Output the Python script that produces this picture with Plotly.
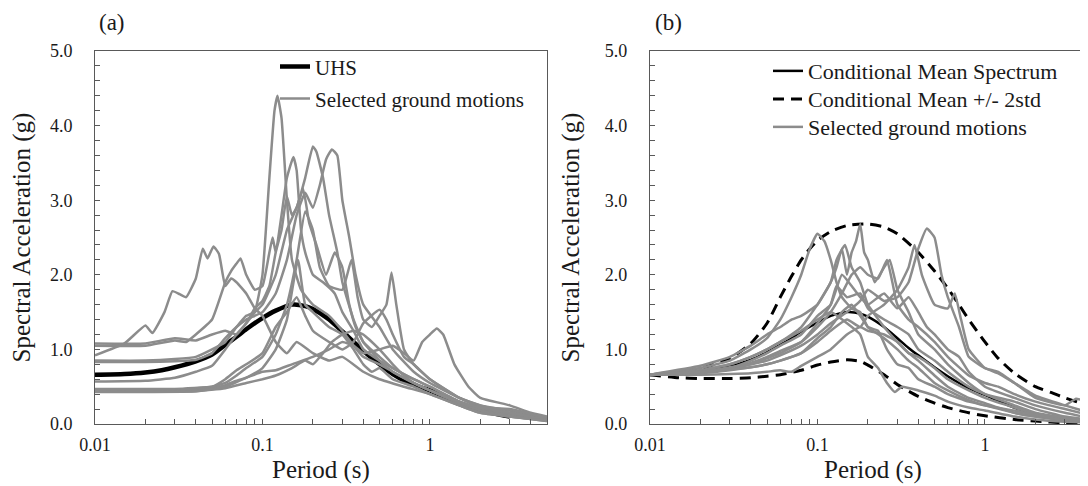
import numpy as np
import plotly.graph_objects as go

# ---------------- Panel (a) data ----------------
uhs_T = [0.01, 0.015, 0.02, 0.025, 0.03, 0.04, 0.05, 0.06, 0.07, 0.08, 0.1, 0.12, 0.15, 0.18, 0.2, 0.25, 0.3, 0.4, 0.5, 0.6, 0.75, 1.0, 1.5, 2.0, 3.0]
uhs_SA = [0.66, 0.67, 0.69, 0.72, 0.76, 0.84, 0.93, 1.06, 1.17, 1.27, 1.42, 1.52, 1.6, 1.58, 1.54, 1.4, 1.24, 0.98, 0.8, 0.67, 0.55, 0.45, 0.27, 0.18, 0.1]

a1_T = [0.01, 0.02, 0.03, 0.04, 0.05, 0.06, 0.07, 0.08, 0.09, 0.1, 0.11, 0.118, 0.123, 0.13, 0.14, 0.15, 0.17, 0.2, 0.25, 0.3, 0.35, 0.4, 0.5, 0.6, 0.8, 1.0, 1.5, 2.0, 3.0, 4.0, 5.0]
a1_SA = [1.08, 1.08, 1.15, 1.12, 1.2, 1.25, 1.2, 1.35, 1.5, 2.0, 3.3, 4.2, 4.4, 4.1, 3.0, 2.2, 1.8, 1.6, 1.45, 1.25, 1.05, 0.9, 0.8, 0.7, 0.55, 0.45, 0.28, 0.2, 0.12, 0.08, 0.05]

a2_T = [0.01, 0.02, 0.03, 0.035, 0.04, 0.05, 0.06, 0.065, 0.07, 0.074, 0.08, 0.09, 0.1, 0.11, 0.115, 0.12, 0.13, 0.14, 0.153, 0.16, 0.17, 0.18, 0.2, 0.23, 0.27, 0.3, 0.35, 0.4, 0.5, 0.6, 0.8, 1.0, 1.5, 2.0, 3.0, 5.0]
a2_SA = [1.05, 1.05, 1.12, 1.1, 1.2, 1.4, 1.9, 2.05, 2.15, 2.22, 2.0, 1.8, 1.85, 2.3, 2.5, 2.3, 2.8, 3.3, 3.58, 3.4, 2.6, 2.3, 2.0, 1.9, 1.75, 1.5, 1.25, 1.0, 0.85, 0.75, 0.6, 0.5, 0.3, 0.2, 0.12, 0.06]

a3_T = [0.01, 0.015, 0.02, 0.022, 0.026, 0.029, 0.032, 0.035, 0.04, 0.044, 0.047, 0.051, 0.055, 0.06, 0.065, 0.07, 0.08, 0.09, 0.1, 0.12, 0.14, 0.16, 0.2, 0.25, 0.3, 0.4, 0.5, 0.7, 1.0, 1.5, 2.0, 3.0, 5.0]
a3_SA = [0.92, 1.08, 1.32, 1.22, 1.5, 1.78, 1.74, 1.7, 1.95, 2.35, 2.22, 2.38, 2.28, 1.85, 1.95, 1.9, 1.75, 1.55, 1.45, 1.1, 0.95, 1.1, 0.95, 0.85, 0.9, 0.7, 0.6, 0.5, 0.4, 0.25, 0.15, 0.1, 0.04]

a4_T = [0.01, 0.02, 0.03, 0.04, 0.05, 0.06, 0.07, 0.08, 0.09, 0.1, 0.12, 0.14, 0.16, 0.18, 0.2, 0.21, 0.23, 0.25, 0.28, 0.3, 0.35, 0.4, 0.5, 0.6, 0.8, 1.0, 1.5, 2.0, 3.0, 5.0]
a4_SA = [0.85, 0.85, 0.87, 0.9, 1.0, 1.1, 1.3, 1.45, 1.5, 1.6, 2.0, 2.6, 2.9, 3.3, 3.72, 3.65, 3.3, 2.8, 2.3, 1.9, 1.4, 1.1, 0.9, 0.75, 0.6, 0.5, 0.3, 0.22, 0.15, 0.06]

a5_T = [0.01, 0.02, 0.03, 0.04, 0.05, 0.06, 0.07, 0.08, 0.1, 0.12, 0.14, 0.16, 0.18, 0.2, 0.22, 0.24, 0.26, 0.28, 0.3, 0.33, 0.36, 0.4, 0.5, 0.6, 0.8, 1.0, 1.5, 2.0, 3.0, 5.0]
a5_SA = [0.83, 0.83, 0.84, 0.86, 0.95, 1.15, 1.3, 1.4, 1.5, 1.75, 2.2, 2.8, 3.1, 2.9, 3.2, 3.55, 3.68, 3.6, 3.0, 2.5, 2.0, 1.6, 1.3, 1.0, 0.7, 0.55, 0.35, 0.25, 0.15, 0.07]

a6_T = [0.01, 0.02, 0.03, 0.04, 0.05, 0.06, 0.07, 0.08, 0.09, 0.1, 0.11, 0.12, 0.13, 0.14, 0.15, 0.16, 0.175, 0.19, 0.21, 0.24, 0.27, 0.3, 0.33, 0.36, 0.4, 0.5, 0.6, 0.8, 1.0, 1.5, 2.0, 3.0, 5.0]
a6_SA = [0.57, 0.58, 0.62, 0.7, 0.78, 1.0, 1.2, 1.35, 1.55, 1.65, 1.85, 2.3, 2.6, 3.05, 2.8, 2.9, 3.15, 2.7, 2.4, 2.0, 2.3, 2.1, 1.6, 1.3, 1.1, 0.85, 0.7, 0.55, 0.45, 0.28, 0.18, 0.1, 0.05]

a7_T = [0.01, 0.03, 0.05, 0.06, 0.07, 0.08, 0.1, 0.12, 0.14, 0.16, 0.18, 0.2, 0.22, 0.25, 0.3, 0.34, 0.37, 0.4, 0.45, 0.5, 0.55, 0.59, 0.63, 0.7, 0.8, 1.0, 1.5, 2.0, 3.0, 5.0]
a7_SA = [0.47, 0.47, 0.5, 0.55, 0.65, 0.75, 0.9, 1.2, 1.6, 2.2, 2.85, 2.6, 2.1, 1.85, 1.8, 2.2, 1.7, 1.4, 1.3, 1.45, 1.6, 2.03, 1.6, 1.0, 0.8, 0.6, 0.35, 0.25, 0.18, 0.08]

a8_T = [0.01, 0.03, 0.05, 0.06, 0.07, 0.08, 0.1, 0.12, 0.14, 0.16, 0.18, 0.2, 0.25, 0.3, 0.35, 0.4, 0.5, 0.55, 0.6, 0.7, 0.8, 1.0, 1.5, 2.0, 3.0, 5.0]
a8_SA = [0.46, 0.46, 0.5, 0.6, 0.72, 0.8, 0.95, 1.3, 1.5, 1.7, 1.45, 1.25, 1.1, 1.0, 1.1, 1.35, 1.53, 1.4, 1.2, 0.9, 0.8, 0.6, 0.35, 0.22, 0.15, 0.06]

a9_T = [0.01, 0.03, 0.05, 0.06, 0.07, 0.08, 0.1, 0.12, 0.15, 0.2, 0.25, 0.3, 0.35, 0.4, 0.5, 0.6, 0.7, 0.8, 0.9, 1.0, 1.1, 1.2, 1.4, 1.7, 2.0, 3.0, 4.0, 5.0]
a9_SA = [0.45, 0.45, 0.48, 0.52, 0.58, 0.62, 0.7, 0.72, 0.8, 0.9, 1.0, 1.1, 1.05, 0.95, 1.0, 1.05, 0.95, 0.85, 1.1, 1.2, 1.28, 1.2, 0.8, 0.5, 0.35, 0.25, 0.15, 0.1]

a10_T = [0.01, 0.04, 0.06, 0.08, 0.1, 0.12, 0.15, 0.18, 0.2, 0.23, 0.26, 0.3, 0.35, 0.4, 0.5, 0.6, 0.7, 0.8, 1.0, 1.5, 2.0, 3.0, 5.0]
a10_SA = [0.44, 0.44, 0.48, 0.55, 0.6, 0.65, 0.75, 0.85, 0.8, 0.95, 1.1, 1.2, 1.25, 1.2, 1.0, 0.8, 0.65, 0.55, 0.45, 0.3, 0.22, 0.2, 0.08]

a11_T = [0.01, 0.04, 0.06, 0.08, 0.1, 0.12, 0.14, 0.163, 0.18, 0.2, 0.25, 0.3, 0.35, 0.4, 0.45, 0.5, 0.6, 0.8, 1.0, 1.5, 2.0, 3.0, 5.0]
a11_SA = [0.43, 0.44, 0.5, 0.62, 0.75, 1.0, 1.4, 2.2, 1.6, 1.5, 1.3, 1.2, 1.0, 0.8, 0.7, 0.75, 0.6, 0.5, 0.4, 0.25, 0.15, 0.1, 0.04]

# ---------------- Panel (b) data ----------------
cms_T = [0.01, 0.015, 0.02, 0.03, 0.04, 0.05, 0.06, 0.07, 0.08, 0.1, 0.12, 0.15, 0.18, 0.2, 0.25, 0.3, 0.35, 0.4, 0.5, 0.6, 0.7, 0.8, 1.0, 1.5, 2.0, 3.0, 4.0, 5.0]
cms_SA = [0.66, 0.68, 0.71, 0.78, 0.86, 0.96, 1.06, 1.15, 1.24, 1.36, 1.45, 1.5, 1.48, 1.44, 1.3, 1.15, 1.02, 0.92, 0.76, 0.64, 0.55, 0.48, 0.39, 0.22, 0.14, 0.07, 0.04, 0.03]

upper_T = [0.01, 0.015, 0.02, 0.03, 0.04, 0.05, 0.06, 0.07, 0.08, 0.09, 0.1, 0.12, 0.15, 0.2, 0.25, 0.3, 0.4, 0.5, 0.6, 0.7, 0.8, 1.0, 1.2, 1.5, 2.0, 2.5, 3.0, 4.0, 5.0]
upper_SA = [0.66, 0.69, 0.74, 0.88, 1.08, 1.35, 1.7, 1.98, 2.2, 2.35, 2.46, 2.58, 2.66, 2.68, 2.64, 2.55, 2.3, 2.05, 1.82, 1.6, 1.4, 1.1, 0.88, 0.68, 0.5, 0.42, 0.35, 0.26, 0.2]

lower_T = [0.01, 0.015, 0.02, 0.03, 0.04, 0.05, 0.06, 0.07, 0.08, 0.1, 0.12, 0.15, 0.18, 0.2, 0.25, 0.3, 0.35, 0.4, 0.5, 0.6, 0.8, 1.0, 1.5, 2.0, 3.0, 5.0]
lower_SA = [0.66, 0.62, 0.61, 0.61, 0.62, 0.64, 0.66, 0.69, 0.72, 0.79, 0.83, 0.86, 0.84, 0.79, 0.66, 0.53, 0.44, 0.37, 0.28, 0.22, 0.15, 0.11, 0.06, 0.04, 0.015, 0.005]

b1_T = [0.01, 0.02, 0.03, 0.04, 0.05, 0.06, 0.07, 0.08, 0.09, 0.1, 0.11, 0.12, 0.13, 0.14, 0.16, 0.18, 0.2, 0.23, 0.26, 0.3, 0.35, 0.4, 0.5, 0.6, 0.8, 1.0, 1.5, 2.0, 3.0, 5.0]
b1_SA = [0.66, 0.75, 0.85, 1.0, 1.15, 1.4, 1.7, 2.0, 2.35, 2.55, 2.45, 2.2, 1.9, 1.7, 1.55, 1.5, 1.3, 1.25, 1.0, 0.8, 0.75, 0.6, 0.5, 0.4, 0.3, 0.25, 0.15, 0.1, 0.06, 0.03]

b2_T = [0.01, 0.02, 0.03, 0.04, 0.05, 0.06, 0.07, 0.08, 0.1, 0.12, 0.13, 0.14, 0.15, 0.16, 0.17, 0.18, 0.19, 0.2, 0.22, 0.25, 0.27, 0.3, 0.35, 0.4, 0.5, 0.6, 0.8, 1.0, 1.5, 2.0, 3.0, 5.0]
b2_SA = [0.66, 0.72, 0.8, 0.9, 1.0, 1.1, 1.2, 1.3, 1.6, 1.9, 2.1, 2.35, 2.0, 2.3, 2.45, 2.68, 2.3, 2.2, 1.9, 2.1, 2.2, 1.8, 1.5, 1.2, 1.0, 0.8, 0.55, 0.4, 0.25, 0.15, 0.08, 0.04]

b3_T = [0.01, 0.02, 0.03, 0.04, 0.05, 0.06, 0.08, 0.1, 0.12, 0.15, 0.18, 0.2, 0.25, 0.3, 0.35, 0.4, 0.45, 0.5, 0.55, 0.6, 0.7, 0.8, 1.0, 1.2, 1.5, 2.0, 3.0, 3.5, 4.0, 5.0]
b3_SA = [0.66, 0.7, 0.75, 0.8, 0.85, 0.92, 1.05, 1.2, 1.35, 1.5, 1.65, 1.8, 1.65, 1.7, 1.9, 2.35, 2.62, 2.5, 2.0, 1.7, 1.3, 0.9, 0.75, 0.7, 0.55, 0.35, 0.25, 0.34, 0.3, 0.15]

b4_T = [0.01, 0.02, 0.03, 0.04, 0.05, 0.06, 0.08, 0.1, 0.12, 0.15, 0.18, 0.2, 0.25, 0.3, 0.35, 0.38, 0.42, 0.5, 0.6, 0.66, 0.72, 0.8, 1.0, 1.2, 1.5, 2.0, 3.0, 5.0]
b4_SA = [0.66, 0.68, 0.72, 0.76, 0.8, 0.85, 0.95, 1.1, 1.25, 1.4, 1.3, 1.45, 1.6, 1.8, 2.1, 2.4, 2.0, 1.6, 1.55, 1.75, 1.4, 1.0, 0.75, 0.68, 0.55, 0.38, 0.25, 0.1]

b5_T = [0.01, 0.02, 0.03, 0.04, 0.05, 0.06, 0.07, 0.08, 0.1, 0.12, 0.13, 0.146, 0.16, 0.18, 0.2, 0.25, 0.3, 0.35, 0.4, 0.5, 0.6, 0.8, 1.0, 1.5, 2.0, 3.0, 5.0]
b5_SA = [0.66, 0.78, 0.9, 1.05, 1.2, 1.3, 1.4, 1.45, 1.6, 1.9, 2.2, 2.4, 2.1, 1.9, 1.6, 1.3, 1.1, 0.95, 0.85, 0.65, 0.5, 0.35, 0.28, 0.15, 0.1, 0.05, 0.02]

b6_T = [0.01, 0.02, 0.03, 0.04, 0.05, 0.06, 0.08, 0.1, 0.12, 0.14, 0.16, 0.18, 0.2, 0.23, 0.26, 0.28, 0.3, 0.35, 0.4, 0.5, 0.6, 0.8, 1.0, 1.2, 1.5, 2.0, 3.0, 5.0]
b6_SA = [0.66, 0.7, 0.76, 0.82, 0.9, 0.98, 1.1, 1.3, 1.5, 1.75, 2.0, 2.1, 2.0, 1.95, 2.2, 1.9, 1.6, 1.4, 1.3, 1.1, 0.9, 0.65, 0.55, 0.5, 0.4, 0.3, 0.2, 0.08]

b7_T = [0.01, 0.02, 0.03, 0.04, 0.05, 0.06, 0.08, 0.1, 0.12, 0.15, 0.18, 0.2, 0.23, 0.26, 0.29, 0.32, 0.4, 0.5, 0.6, 0.8, 1.0, 1.5, 2.0, 3.0, 5.0]
b7_SA = [0.66, 0.72, 0.8, 0.9, 1.0, 1.1, 1.25, 1.4, 1.5, 1.35, 1.2, 0.9, 0.75, 0.55, 0.43, 0.5, 0.45, 0.38, 0.3, 0.22, 0.18, 0.1, 0.06, 0.03, 0.01]

b8_T = [0.01, 0.02, 0.03, 0.04, 0.05, 0.06, 0.08, 0.1, 0.12, 0.13, 0.15, 0.18, 0.2, 0.25, 0.3, 0.35, 0.4, 0.5, 0.6, 0.8, 1.0, 1.5, 2.0, 3.0, 5.0]
b8_SA = [0.66, 0.7, 0.74, 0.8, 0.88, 0.95, 1.1, 1.35, 1.6, 1.85, 1.7, 1.75, 1.55, 1.4, 1.3, 1.2, 1.0, 0.85, 0.7, 0.5, 0.4, 0.3, 0.2, 0.1, 0.04]

b9_T = [0.01, 0.02, 0.03, 0.04, 0.05, 0.06, 0.07, 0.08, 0.1, 0.12, 0.15, 0.18, 0.2, 0.25, 0.3, 0.35, 0.4, 0.5, 0.6, 0.8, 1.0, 1.5, 2.0, 3.0, 5.0]
b9_SA = [0.66, 0.66, 0.67, 0.68, 0.7, 0.72, 0.7, 0.78, 0.9, 1.0, 1.2, 1.3, 1.25, 1.2, 1.1, 0.95, 0.9, 0.75, 0.6, 0.45, 0.35, 0.22, 0.14, 0.08, 0.03]

b10_T = [0.01, 0.02, 0.03, 0.04, 0.05, 0.06, 0.08, 0.1, 0.12, 0.14, 0.16, 0.18, 0.2, 0.25, 0.3, 0.35, 0.4, 0.45, 0.5, 0.6, 0.7, 0.8, 1.0, 1.5, 2.0, 3.0, 5.0]
b10_SA = [0.66, 0.7, 0.75, 0.85, 0.95, 1.05, 1.2, 1.45, 1.6, 2.0, 1.85, 1.7, 1.6, 1.75, 1.55, 1.7, 1.5, 1.3, 1.2, 1.0, 0.9, 0.7, 0.5, 0.35, 0.25, 0.15, 0.05]

b11_T = [0.01, 0.02, 0.03, 0.04, 0.05, 0.06, 0.08, 0.1, 0.12, 0.14, 0.16, 0.18, 0.2, 0.25, 0.3, 0.35, 0.4, 0.5, 0.6, 0.8, 1.0, 1.5, 2.0, 3.0, 5.0]
b11_SA = [0.66, 0.7, 0.73, 0.76, 0.8, 0.85, 0.95, 1.15, 1.3, 1.5, 1.6, 1.45, 1.3, 1.15, 1.0, 0.85, 0.75, 0.55, 0.45, 0.32, 0.25, 0.18, 0.12, 0.05, 0.02]

# ---------------- Axis labels ----------------
x_tickvals = [0.01, 0.1, 1]
x_ticktext = ["0.01", "0.1", "1"]
x_minor = [0.02, 0.03, 0.04, 0.05, 0.06, 0.07, 0.08, 0.09,
           0.2, 0.3, 0.4, 0.5, 0.6, 0.7, 0.8, 0.9, 2, 3, 4, 5]
y_tickvals = [0, 1, 2, 3, 4, 5]
y_ticktext = ["0.0", "1.0", "2.0", "3.0", "4.0", "5.0"]
y_minor = [0.2, 0.4, 0.6, 0.8, 1.2, 1.4, 1.6, 1.8, 2.2, 2.4, 2.6, 2.8,
           3.2, 3.4, 3.6, 3.8, 4.2, 4.4, 4.6, 4.8]

gm_a = [(a1_T, a1_SA), (a2_T, a2_SA), (a3_T, a3_SA), (a4_T, a4_SA), (a5_T, a5_SA),
        (a6_T, a6_SA), (a7_T, a7_SA), (a8_T, a8_SA), (a9_T, a9_SA), (a10_T, a10_SA),
        (a11_T, a11_SA)]
gm_b = [(b1_T, b1_SA), (b2_T, b2_SA), (b3_T, b3_SA), (b4_T, b4_SA), (b5_T, b5_SA),
        (b6_T, b6_SA), (b7_T, b7_SA), (b8_T, b8_SA), (b9_T, b9_SA), (b10_T, b10_SA),
        (b11_T, b11_SA)]

FONT = "Liberation Serif"
GRAY = "#8c8c8c"
AX = "#595959"
TXT = "#1a1a1a"

fig = go.Figure()

# Panel (a)
fig.add_trace(go.Scatter(x=uhs_T, y=uhs_SA, mode="lines", name="UHS",
                         line=dict(color="black", width=4.5, shape="spline", smoothing=0.6),
                         xaxis="x", yaxis="y", legend="legend"))
for i, (t, s) in enumerate(gm_a):
    fig.add_trace(go.Scatter(x=t, y=s, mode="lines", name="Selected ground motions",
                             line=dict(color=GRAY, width=2.5, shape="spline", smoothing=0.4),
                             xaxis="x", yaxis="y", legend="legend3",
                             showlegend=(i == 0)))

# Panel (b)
fig.add_trace(go.Scatter(x=cms_T, y=cms_SA, mode="lines", name="Conditional Mean Spectrum",
                         line=dict(color="black", width=2.5, shape="spline", smoothing=0.6),
                         xaxis="x2", yaxis="y2", legend="legend2"))
fig.add_trace(go.Scatter(x=upper_T, y=upper_SA, mode="lines", name="Conditional Mean +/- 2std",
                         line=dict(color="black", width=3, dash="11px,7px", shape="spline", smoothing=0.6),
                         xaxis="x2", yaxis="y2", legend="legend4"))
fig.add_trace(go.Scatter(x=lower_T, y=lower_SA, mode="lines", name="Conditional Mean +/- 2std",
                         line=dict(color="black", width=3, dash="11px,7px", shape="spline", smoothing=0.6),
                         xaxis="x2", yaxis="y2", legend="legend4", showlegend=False))
for i, (t, s) in enumerate(gm_b):
    fig.add_trace(go.Scatter(x=t, y=s, mode="lines", name="Selected ground motions",
                             line=dict(color=GRAY, width=2.5, shape="spline", smoothing=0.4),
                             xaxis="x2", yaxis="y2", legend="legend5",
                             showlegend=(i == 0)))


def xaxis(domain, rng, anchor):
    return dict(type="log", domain=domain, range=rng, anchor=anchor,
                tickvals=x_tickvals, ticktext=x_ticktext,
                ticks="inside", ticklen=5, tickcolor=AX, tickwidth=1,
                minor=dict(ticks="inside", ticklen=5, tickcolor=AX, tickwidth=1, tickvals=x_minor),
                showline=True, linecolor=AX, linewidth=1, mirror=True,
                showgrid=False, zeroline=False,
                tickfont=dict(family=FONT, size=18, color=TXT),
                ticklabelstandoff=4,
                title=dict(text="Period (s)", font=dict(family=FONT, size=25, color=TXT), standoff=6))


def yaxis(anchor, mirror, title_standoff):
    return dict(range=[0, 5], anchor=anchor,
                tickvals=y_tickvals, ticktext=y_ticktext,
                ticks="inside", ticklen=5, tickcolor=AX, tickwidth=1,
                minor=dict(ticks="inside", ticklen=5, tickcolor=AX, tickwidth=1, tickvals=y_minor),
                showline=True, linecolor=AX, linewidth=1, mirror=mirror,
                showgrid=False, zeroline=False,
                tickfont=dict(family=FONT, size=18, color=TXT),
                ticklabelstandoff=18,
                title=dict(text="Spectral Acceleration (g)", font=dict(family=FONT, size=25, color=TXT),
                           standoff=title_standoff))


def single_legend(x_px, center_px, size):
    # one legend entry; its line is centred about 1.36 font sizes below the legend top
    top = center_px - 1.36 * size
    return dict(x=(x_px - 87) / 1001, y=1 - (top - 43) / 373, xanchor="left", yanchor="top",
                bgcolor="rgba(0,0,0,0)", borderwidth=0,
                font=dict(family=FONT, size=size, color=TXT))


fig.update_layout(
    width=1088, height=486,
    margin=dict(l=87, r=0, t=43, b=70),
    paper_bgcolor="white", plot_bgcolor="white",
    xaxis=xaxis([0, 0.4515], [-2, np.log10(5)], "y"),
    xaxis2=xaxis([0.5544, 1.0], [-2, 0.663], "y2"),
    yaxis=yaxis("x", True, 16), yaxis2=yaxis("x2", False, 18),
    legend=single_legend(267, 67, 21),
    legend3=single_legend(267, 99, 21),
    legend2=single_legend(760, 72, 22),
    legend4=single_legend(760, 100, 22),
    legend5=single_legend(760, 128, 22),
    annotations=[
        dict(text="(a)", x=(104 - 87) / 1001, y=1 + (43 - 1) / 373, xref="paper", yref="paper",
             showarrow=False, xanchor="center", yanchor="top", borderpad=0,
             font=dict(family=FONT, size=23, color=TXT)),
        dict(text="(b)", x=(660 - 87) / 1001, y=1 + (43 - 1) / 373, xref="paper", yref="paper",
             showarrow=False, xanchor="center", yanchor="top", borderpad=0,
             font=dict(family=FONT, size=23, color=TXT)),
    ],
    showlegend=True,
)

fig.write_html("out.html")
